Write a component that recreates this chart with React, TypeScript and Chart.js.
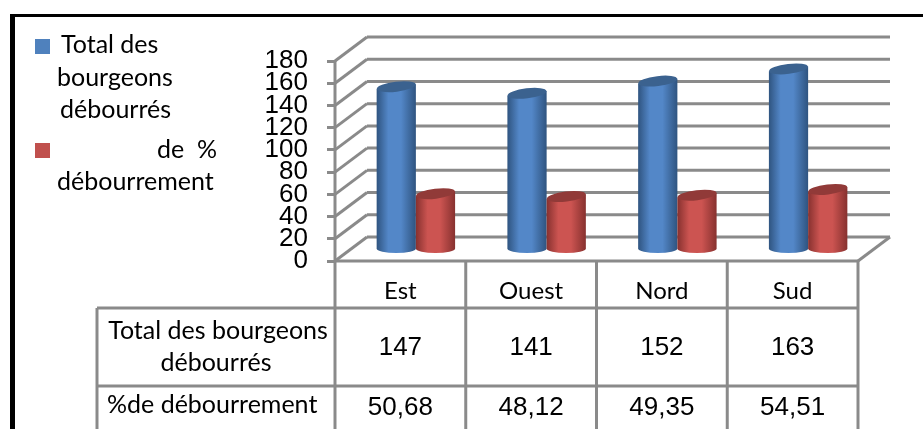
import { useEffect, useRef } from "react";
import { Chart, registerables } from "chart.js";

Chart.register(...registerables);

const categories = ["Est", "Ouest", "Nord", "Sud"];
const totalBourgeons = [147, 141, 152, 163];
const pctDebourrement = [50.68, 48.12, 49.35, 54.51];
const yTicksMax = 180;
const seriesColors = ["#4f81bd", "#c0504d"];
const rowLabels = [["Total des bourgeons", "débourrés"], ["%de débourrement"]];
const formatPct = (v: number) => v.toFixed(2).replace(".", ",");

const GRID = "#8a8a8a";
const TEXT_FONT = "Lato, sans-serif";
const NUM_FONT = '"Liberation Sans", Arial, sans-serif';

// 3D look: depth of the back wall and the offset of the bars inside that depth
const DEPTH_X = 32;
const DEPTH_Y = 24;
const BAR_DX = 15.5;
const BAR_DY = 11;

const CYLINDER_SHADES = [
  { edge: "#2f5480", mid: "#5387c8", top: "#3b628f" },
  { edge: "#87312f", mid: "#cc5451", top: "#913a38" },
];

function line(ctx: CanvasRenderingContext2D, x1: number, y1: number, x2: number, y2: number) {
  ctx.beginPath();
  ctx.moveTo(x1, y1);
  ctx.lineTo(x2, y2);
  ctx.stroke();
}

// Frame around the figure and the hand-wrapped legend on the left
const framePlugin = {
  id: "frame",
  beforeDraw(chart: any) {
    const { ctx, width, height } = chart;
    ctx.save();
    ctx.fillStyle = "#ffffff";
    ctx.fillRect(0, 0, width, height);
    ctx.fillStyle = "#000000";
    ctx.fillRect(10, 14, width - 10, 3);
    ctx.fillRect(10, 14, 5, height - 14);

    ctx.fillStyle = seriesColors[0];
    ctx.fillRect(35, 39, 15, 15);
    ctx.fillStyle = seriesColors[1];
    ctx.fillRect(35, 143, 15, 15);

    ctx.fillStyle = "#000000";
    ctx.font = `25px ${TEXT_FONT}`;
    ctx.textBaseline = "middle";
    ctx.textAlign = "left";
    ctx.fillText("Total des", 61, 45);
    ctx.fillText("bourgeons", 57, 78);
    ctx.fillText("débourrés", 60, 110);
    ctx.fillText("de  %", 157, 150);
    ctx.fillText("débourrement", 57, 182);
    ctx.restore();
  },
};

// Back wall, side wall and floor of the 3D plot area
const wallsPlugin = {
  id: "walls",
  beforeDatasetsDraw(chart: any) {
    const { ctx, chartArea, scales } = chart;
    const { left, right } = chartArea;
    ctx.save();
    ctx.strokeStyle = GRID;
    ctx.lineWidth = 3;
    for (const tick of scales.y.ticks) {
      const y = scales.y.getPixelForValue(tick.value);
      line(ctx, left, y, left + DEPTH_X, y - DEPTH_Y);
      line(ctx, left + DEPTH_X, y - DEPTH_Y, right + DEPTH_X, y - DEPTH_Y);
    }
    const floor = scales.y.getPixelForValue(0);
    line(ctx, left, scales.y.getPixelForValue(yTicksMax), left, floor);
    line(ctx, left, floor, right, floor);
    line(ctx, right, floor, right + DEPTH_X, floor - DEPTH_Y);
    ctx.restore();
  },
};

function drawCylinder(ctx: CanvasRenderingContext2D, el: any, shade: (typeof CYLINDER_SHADES)[number]) {
  const x = el.x + BAR_DX;
  const top = el.y - BAR_DY;
  const base = el.base - BAR_DY;
  const rx = el.width / 2;
  const tilt = -0.12;
  const gradient = ctx.createLinearGradient(x - rx, 0, x + rx, 0);
  gradient.addColorStop(0, shade.edge);
  gradient.addColorStop(0.3, shade.mid);
  gradient.addColorStop(0.62, shade.mid);
  gradient.addColorStop(1, shade.edge);

  ctx.fillStyle = gradient;
  ctx.beginPath();
  ctx.moveTo(x - rx, top + rx * 0.12);
  ctx.lineTo(x - rx, base);
  ctx.ellipse(x, base, rx, 4.5, 0, Math.PI, 0, true);
  ctx.lineTo(x + rx, top - rx * 0.12);
  ctx.closePath();
  ctx.fill();

  ctx.fillStyle = shade.top;
  ctx.beginPath();
  ctx.ellipse(x, top, rx, 5, tilt, 0, Math.PI * 2);
  ctx.fill();
}

// Bars are painted as cylinders, the second series over the first
const cylinderPlugin = {
  id: "cylinders",
  beforeDatasetDraw() {
    return false;
  },
  afterDatasetsDraw(chart: any) {
    const { ctx } = chart;
    ctx.save();
    chart.data.datasets.forEach((_: unknown, i: number) => {
      for (const el of chart.getDatasetMeta(i).data) drawCylinder(ctx, el, CYLINDER_SHADES[i]);
    });
    ctx.restore();
  },
};

// Data table under the plot
const tablePlugin = {
  id: "dataTable",
  afterDraw(chart: any) {
    const { ctx, chartArea, scales, height } = chart;
    const { left, right, bottom } = chartArea;
    const rowA = 308;
    const rowB = 386;
    const tableLeft = 97;
    ctx.save();
    ctx.strokeStyle = GRID;
    ctx.lineWidth = 3;
    line(ctx, tableLeft, rowA, right, rowA);
    line(ctx, tableLeft, rowB, right, rowB);
    line(ctx, tableLeft, rowA, tableLeft, height);
    const step = (right - left) / categories.length;
    for (let i = 0; i <= categories.length; i++) {
      line(ctx, left + step * i, bottom, left + step * i, height);
    }

    ctx.fillStyle = "#000000";
    ctx.textBaseline = "middle";
    ctx.textAlign = "center";
    ctx.font = `25px ${TEXT_FONT}`;
    ctx.fillText(rowLabels[0][0], 218, 331);
    ctx.fillText(rowLabels[0][1], 216, 363);
    ctx.textAlign = "left";
    ctx.fillText(rowLabels[1][0], 107, 405);

    ctx.textAlign = "center";
    ctx.font = `26px ${NUM_FONT}`;
    categories.forEach((_, i) => {
      const x = scales.x.getPixelForValue(i);
      ctx.fillText(String(totalBourgeons[i]), x, 348);
      ctx.fillText(formatPct(pctDebourrement[i]), x, 408);
    });
    ctx.restore();
  },
};

export default function App() {
  const canvasRef = useRef<HTMLCanvasElement>(null);

  useEffect(() => {
    const chart = new Chart(canvasRef.current!, {
      type: "bar",
      data: {
        labels: categories,
        datasets: [
          { label: "Total des bourgeons débourrés", data: totalBourgeons, backgroundColor: seriesColors[0] },
          { label: "de % débourrement", data: pctDebourrement, backgroundColor: seriesColors[1] },
        ],
      },
      options: {
        animation: false,
        responsive: false,
        layout: { padding: { left: 0, right: 65, top: 61, bottom: 0 } },
        datasets: { bar: { barPercentage: 1, categoryPercentage: 0.6 } },
        plugins: { legend: { display: false }, tooltip: { enabled: false } },
        scales: {
          x: {
            grid: { display: false },
            border: { display: false },
            ticks: { color: "#000000", padding: 8, font: { family: TEXT_FONT, size: 24 }, maxRotation: 0 },
            afterFit(scale: any) {
              scale.height = 168;
            },
          },
          y: {
            min: 0,
            max: yTicksMax,
            ticks: { stepSize: 20, autoSkip: false, color: "#000000", padding: 19, font: { family: NUM_FONT, size: 26 } },
            grid: { drawOnChartArea: false, tickLength: 8, color: GRID, lineWidth: 3 },
            border: { display: false },
            afterFit(scale: any) {
              scale.width = 335;
            },
          },
        },
      },
      plugins: [framePlugin, wallsPlugin, cylinderPlugin, tablePlugin],
    });
    return () => chart.destroy();
  }, []);

  return (
    <canvas
      ref={canvasRef}
      width={923}
      height={429}
      style={{ position: "fixed", left: 0, top: 0, display: "block" }}
    />
  );
}
